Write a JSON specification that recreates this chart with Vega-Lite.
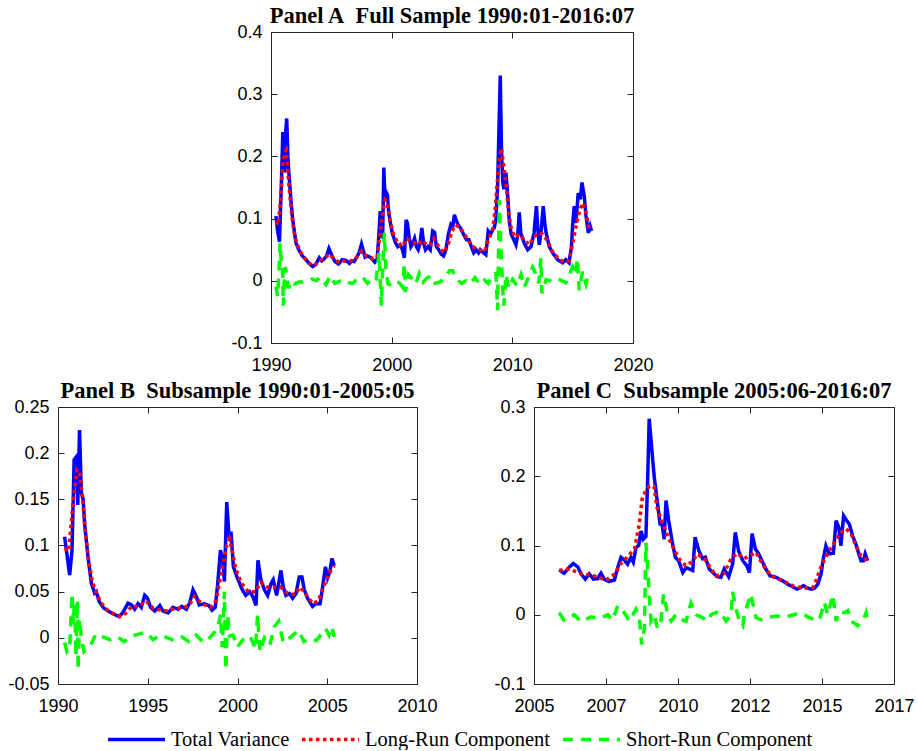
{
  "$schema": "https://vega.github.io/schema/vega-lite/v6.json",
  "padding": {"left": 7, "top": 4, "right": 5, "bottom": 0},
  "background": "white",
  "config": {
    "view": {"stroke": "#262626", "strokeWidth": 1},
    "axis": {"domain": false, "grid": false, "tickSize": -6, "tickColor": "#262626", "labelFont": "Liberation Sans", "labelFontSize": 18, "labelColor": "#000000", "labelFlush": false, "labelOverlap": false, "title": null, "minExtent": 0},
    "axisX": {"labelPadding": 19},
    "axisY": {"labelPadding": 15},
    "title": {"font": "Liberation Serif", "fontWeight": "bold", "fontSize": 22.5, "color": "#000000", "offset": -4, "baseline": "alphabetic"},
    "legend": {"labelFont": "Liberation Serif", "labelFontSize": 20.5, "labelColor": "#000000", "labelLimit": 400, "symbolType": "stroke", "symbolStrokeWidth": 3.5, "symbolSize": 3250, "columnPadding": 4, "labelOffset": 4}
  },
  "datasets": {
    "a": [
      {"t":1990.41,"s":"Total Variance","v":0.104},{"t":1990.55,"s":"Total Variance","v":0.080},{"t":1990.7,"s":"Total Variance","v":0.063},{"t":1990.85,"s":"Total Variance","v":0.15},{"t":1990.98,"s":"Total Variance","v":0.239},{"t":1991.08,"s":"Total Variance","v":0.20},{"t":1991.15,"s":"Total Variance","v":0.174},{"t":1991.22,"s":"Total Variance","v":0.24},{"t":1991.3,"s":"Total Variance","v":0.261},{"t":1991.4,"s":"Total Variance","v":0.20},{"t":1991.5,"s":"Total Variance","v":0.168},{"t":1991.65,"s":"Total Variance","v":0.13},{"t":1991.8,"s":"Total Variance","v":0.098},{"t":1992.07,"s":"Total Variance","v":0.061},{"t":1992.3,"s":"Total Variance","v":0.05},{"t":1992.6,"s":"Total Variance","v":0.040},{"t":1992.9,"s":"Total Variance","v":0.034},{"t":1993.2,"s":"Total Variance","v":0.027},{"t":1993.45,"s":"Total Variance","v":0.023},{"t":1993.7,"s":"Total Variance","v":0.026},{"t":1994.0,"s":"Total Variance","v":0.037},{"t":1994.2,"s":"Total Variance","v":0.032},{"t":1994.4,"s":"Total Variance","v":0.035},{"t":1994.6,"s":"Total Variance","v":0.040},{"t":1994.8,"s":"Total Variance","v":0.052},{"t":1995.1,"s":"Total Variance","v":0.038},{"t":1995.3,"s":"Total Variance","v":0.031},{"t":1995.6,"s":"Total Variance","v":0.027},{"t":1995.9,"s":"Total Variance","v":0.034},{"t":1996.2,"s":"Total Variance","v":0.033},{"t":1996.5,"s":"Total Variance","v":0.028},{"t":1996.7,"s":"Total Variance","v":0.032},{"t":1996.9,"s":"Total Variance","v":0.031},{"t":1997.1,"s":"Total Variance","v":0.038},{"t":1997.3,"s":"Total Variance","v":0.045},{"t":1997.5,"s":"Total Variance","v":0.059},{"t":1997.8,"s":"Total Variance","v":0.038},{"t":1998.0,"s":"Total Variance","v":0.040},{"t":1998.3,"s":"Total Variance","v":0.037},{"t":1998.6,"s":"Total Variance","v":0.030},{"t":1998.8,"s":"Total Variance","v":0.035},{"t":1998.95,"s":"Total Variance","v":0.077},{"t":1999.05,"s":"Total Variance","v":0.112},{"t":1999.15,"s":"Total Variance","v":0.10},{"t":1999.25,"s":"Total Variance","v":0.068},{"t":1999.35,"s":"Total Variance","v":0.182},{"t":1999.45,"s":"Total Variance","v":0.13},{"t":1999.55,"s":"Total Variance","v":0.142},{"t":1999.65,"s":"Total Variance","v":0.138},{"t":1999.75,"s":"Total Variance","v":0.11},{"t":1999.85,"s":"Total Variance","v":0.098},{"t":2000.05,"s":"Total Variance","v":0.077},{"t":2000.3,"s":"Total Variance","v":0.062},{"t":2000.5,"s":"Total Variance","v":0.055},{"t":2000.7,"s":"Total Variance","v":0.058},{"t":2000.9,"s":"Total Variance","v":0.05},{"t":2001.05,"s":"Total Variance","v":0.037},{"t":2001.2,"s":"Total Variance","v":0.098},{"t":2001.3,"s":"Total Variance","v":0.093},{"t":2001.45,"s":"Total Variance","v":0.07},{"t":2001.6,"s":"Total Variance","v":0.055},{"t":2001.75,"s":"Total Variance","v":0.06},{"t":2001.9,"s":"Total Variance","v":0.068},{"t":2002.05,"s":"Total Variance","v":0.055},{"t":2002.2,"s":"Total Variance","v":0.05},{"t":2002.35,"s":"Total Variance","v":0.06},{"t":2002.5,"s":"Total Variance","v":0.085},{"t":2002.65,"s":"Total Variance","v":0.06},{"t":2002.8,"s":"Total Variance","v":0.05},{"t":2003.0,"s":"Total Variance","v":0.055},{"t":2003.2,"s":"Total Variance","v":0.05},{"t":2003.4,"s":"Total Variance","v":0.08},{"t":2003.55,"s":"Total Variance","v":0.078},{"t":2003.7,"s":"Total Variance","v":0.055},{"t":2003.9,"s":"Total Variance","v":0.05},{"t":2004.1,"s":"Total Variance","v":0.043},{"t":2004.3,"s":"Total Variance","v":0.04},{"t":2004.5,"s":"Total Variance","v":0.05},{"t":2004.7,"s":"Total Variance","v":0.075},{"t":2004.9,"s":"Total Variance","v":0.09},{"t":2005.05,"s":"Total Variance","v":0.086},{"t":2005.2,"s":"Total Variance","v":0.106},{"t":2005.33,"s":"Total Variance","v":0.098},{"t":2005.5,"s":"Total Variance","v":0.09},{"t":2005.7,"s":"Total Variance","v":0.085},{"t":2005.9,"s":"Total Variance","v":0.077},{"t":2006.2,"s":"Total Variance","v":0.066},{"t":2006.4,"s":"Total Variance","v":0.066},{"t":2006.6,"s":"Total Variance","v":0.055},{"t":2006.8,"s":"Total Variance","v":0.045},{"t":2007.0,"s":"Total Variance","v":0.05},{"t":2007.2,"s":"Total Variance","v":0.045},{"t":2007.34,"s":"Total Variance","v":0.05},{"t":2007.54,"s":"Total Variance","v":0.046},{"t":2007.8,"s":"Total Variance","v":0.042},{"t":2007.9,"s":"Total Variance","v":0.06},{"t":2008.0,"s":"Total Variance","v":0.08},{"t":2008.2,"s":"Total Variance","v":0.075},{"t":2008.37,"s":"Total Variance","v":0.082},{"t":2008.5,"s":"Total Variance","v":0.085},{"t":2008.64,"s":"Total Variance","v":0.098},{"t":2008.78,"s":"Total Variance","v":0.152},{"t":2008.9,"s":"Total Variance","v":0.25},{"t":2009.0,"s":"Total Variance","v":0.33},{"t":2009.1,"s":"Total Variance","v":0.211},{"t":2009.2,"s":"Total Variance","v":0.16},{"t":2009.3,"s":"Total Variance","v":0.147},{"t":2009.47,"s":"Total Variance","v":0.174},{"t":2009.6,"s":"Total Variance","v":0.142},{"t":2009.74,"s":"Total Variance","v":0.098},{"t":2009.9,"s":"Total Variance","v":0.075},{"t":2010.0,"s":"Total Variance","v":0.071},{"t":2010.3,"s":"Total Variance","v":0.058},{"t":2010.45,"s":"Total Variance","v":0.075},{"t":2010.57,"s":"Total Variance","v":0.11},{"t":2010.7,"s":"Total Variance","v":0.077},{"t":2011.0,"s":"Total Variance","v":0.06},{"t":2011.27,"s":"Total Variance","v":0.05},{"t":2011.55,"s":"Total Variance","v":0.055},{"t":2011.8,"s":"Total Variance","v":0.077},{"t":2011.9,"s":"Total Variance","v":0.1},{"t":2012.0,"s":"Total Variance","v":0.12},{"t":2012.1,"s":"Total Variance","v":0.085},{"t":2012.23,"s":"Total Variance","v":0.058},{"t":2012.37,"s":"Total Variance","v":0.077},{"t":2012.47,"s":"Total Variance","v":0.1},{"t":2012.56,"s":"Total Variance","v":0.12},{"t":2012.7,"s":"Total Variance","v":0.09},{"t":2012.8,"s":"Total Variance","v":0.077},{"t":2013.06,"s":"Total Variance","v":0.055},{"t":2013.34,"s":"Total Variance","v":0.045},{"t":2013.76,"s":"Total Variance","v":0.034},{"t":2014.17,"s":"Total Variance","v":0.029},{"t":2014.44,"s":"Total Variance","v":0.034},{"t":2014.7,"s":"Total Variance","v":0.029},{"t":2014.9,"s":"Total Variance","v":0.055},{"t":2015.0,"s":"Total Variance","v":0.09},{"t":2015.13,"s":"Total Variance","v":0.12},{"t":2015.27,"s":"Total Variance","v":0.093},{"t":2015.46,"s":"Total Variance","v":0.141},{"t":2015.63,"s":"Total Variance","v":0.131},{"t":2015.77,"s":"Total Variance","v":0.158},{"t":2015.96,"s":"Total Variance","v":0.136},{"t":2016.1,"s":"Total Variance","v":0.105},{"t":2016.3,"s":"Total Variance","v":0.077},{"t":2016.45,"s":"Total Variance","v":0.088},{"t":2016.57,"s":"Total Variance","v":0.08},
      {"t":1990.41,"s":"Long-Run Component","v":0.095},{"t":1990.6,"s":"Long-Run Component","v":0.09},{"t":1990.8,"s":"Long-Run Component","v":0.13},{"t":1990.95,"s":"Long-Run Component","v":0.18},{"t":1991.1,"s":"Long-Run Component","v":0.205},{"t":1991.25,"s":"Long-Run Component","v":0.21},{"t":1991.35,"s":"Long-Run Component","v":0.19},{"t":1991.5,"s":"Long-Run Component","v":0.15},{"t":1991.7,"s":"Long-Run Component","v":0.11},{"t":1991.9,"s":"Long-Run Component","v":0.08},{"t":1992.1,"s":"Long-Run Component","v":0.062},{"t":1992.4,"s":"Long-Run Component","v":0.048},{"t":1992.8,"s":"Long-Run Component","v":0.036},{"t":1993.2,"s":"Long-Run Component","v":0.028},{"t":1993.5,"s":"Long-Run Component","v":0.024},{"t":1993.8,"s":"Long-Run Component","v":0.028},{"t":1994.1,"s":"Long-Run Component","v":0.033},{"t":1994.5,"s":"Long-Run Component","v":0.037},{"t":1994.8,"s":"Long-Run Component","v":0.043},{"t":1995.2,"s":"Long-Run Component","v":0.036},{"t":1995.6,"s":"Long-Run Component","v":0.03},{"t":1996.0,"s":"Long-Run Component","v":0.032},{"t":1996.5,"s":"Long-Run Component","v":0.031},{"t":1997.0,"s":"Long-Run Component","v":0.035},{"t":1997.5,"s":"Long-Run Component","v":0.048},{"t":1997.9,"s":"Long-Run Component","v":0.04},{"t":1998.4,"s":"Long-Run Component","v":0.036},{"t":1998.8,"s":"Long-Run Component","v":0.038},{"t":1999.0,"s":"Long-Run Component","v":0.07},{"t":1999.2,"s":"Long-Run Component","v":0.1},{"t":1999.45,"s":"Long-Run Component","v":0.13},{"t":1999.65,"s":"Long-Run Component","v":0.125},{"t":1999.85,"s":"Long-Run Component","v":0.1},{"t":2000.1,"s":"Long-Run Component","v":0.078},{"t":2000.5,"s":"Long-Run Component","v":0.06},{"t":2000.9,"s":"Long-Run Component","v":0.055},{"t":2001.2,"s":"Long-Run Component","v":0.068},{"t":2001.5,"s":"Long-Run Component","v":0.065},{"t":2001.8,"s":"Long-Run Component","v":0.062},{"t":2002.2,"s":"Long-Run Component","v":0.058},{"t":2002.5,"s":"Long-Run Component","v":0.065},{"t":2002.9,"s":"Long-Run Component","v":0.058},{"t":2003.2,"s":"Long-Run Component","v":0.058},{"t":2003.5,"s":"Long-Run Component","v":0.068},{"t":2003.9,"s":"Long-Run Component","v":0.055},{"t":2004.3,"s":"Long-Run Component","v":0.045},{"t":2004.7,"s":"Long-Run Component","v":0.06},{"t":2005.0,"s":"Long-Run Component","v":0.08},{"t":2005.3,"s":"Long-Run Component","v":0.09},{"t":2005.7,"s":"Long-Run Component","v":0.085},{"t":2006.2,"s":"Long-Run Component","v":0.07},{"t":2006.7,"s":"Long-Run Component","v":0.055},{"t":2007.2,"s":"Long-Run Component","v":0.05},{"t":2007.7,"s":"Long-Run Component","v":0.047},{"t":2008.0,"s":"Long-Run Component","v":0.065},{"t":2008.4,"s":"Long-Run Component","v":0.085},{"t":2008.6,"s":"Long-Run Component","v":0.12},{"t":2008.8,"s":"Long-Run Component","v":0.17},{"t":2008.95,"s":"Long-Run Component","v":0.2},{"t":2009.1,"s":"Long-Run Component","v":0.213},{"t":2009.25,"s":"Long-Run Component","v":0.19},{"t":2009.5,"s":"Long-Run Component","v":0.15},{"t":2009.7,"s":"Long-Run Component","v":0.11},{"t":2009.9,"s":"Long-Run Component","v":0.085},{"t":2010.2,"s":"Long-Run Component","v":0.07},{"t":2010.6,"s":"Long-Run Component","v":0.075},{"t":2011.0,"s":"Long-Run Component","v":0.065},{"t":2011.4,"s":"Long-Run Component","v":0.058},{"t":2011.8,"s":"Long-Run Component","v":0.07},{"t":2012.1,"s":"Long-Run Component","v":0.077},{"t":2012.5,"s":"Long-Run Component","v":0.075},{"t":2012.9,"s":"Long-Run Component","v":0.065},{"t":2013.3,"s":"Long-Run Component","v":0.048},{"t":2013.8,"s":"Long-Run Component","v":0.036},{"t":2014.3,"s":"Long-Run Component","v":0.03},{"t":2014.7,"s":"Long-Run Component","v":0.032},{"t":2015.0,"s":"Long-Run Component","v":0.06},{"t":2015.3,"s":"Long-Run Component","v":0.09},{"t":2015.6,"s":"Long-Run Component","v":0.115},{"t":2015.85,"s":"Long-Run Component","v":0.125},{"t":2016.1,"s":"Long-Run Component","v":0.11},{"t":2016.3,"s":"Long-Run Component","v":0.088},{"t":2016.57,"s":"Long-Run Component","v":0.08},
      {"t":1990.41,"s":"Short-Run Component","v":-0.009},{"t":1990.5,"s":"Short-Run Component","v":-0.02},{"t":1990.55,"s":"Short-Run Component","v":-0.025},{"t":1990.65,"s":"Short-Run Component","v":0.01},{"t":1990.75,"s":"Short-Run Component","v":0.061},{"t":1990.85,"s":"Short-Run Component","v":0.03},{"t":1990.95,"s":"Short-Run Component","v":0.03},{"t":1991.02,"s":"Short-Run Component","v":-0.04},{"t":1991.1,"s":"Short-Run Component","v":0.0},{"t":1991.19,"s":"Short-Run Component","v":0.022},{"t":1991.3,"s":"Short-Run Component","v":0.01},{"t":1991.4,"s":"Short-Run Component","v":-0.01},{"t":1991.52,"s":"Short-Run Component","v":-0.01},{"t":1991.7,"s":"Short-Run Component","v":0.0},{"t":1991.93,"s":"Short-Run Component","v":-0.005},{"t":1992.3,"s":"Short-Run Component","v":-0.002},{"t":1992.62,"s":"Short-Run Component","v":-0.002},{"t":1993.0,"s":"Short-Run Component","v":-0.001},{"t":1993.4,"s":"Short-Run Component","v":0.003},{"t":1993.73,"s":"Short-Run Component","v":0.0},{"t":1994.1,"s":"Short-Run Component","v":0.006},{"t":1994.56,"s":"Short-Run Component","v":-0.006},{"t":1994.9,"s":"Short-Run Component","v":0.008},{"t":1995.3,"s":"Short-Run Component","v":-0.004},{"t":1995.66,"s":"Short-Run Component","v":-0.001},{"t":1996.0,"s":"Short-Run Component","v":0.002},{"t":1996.4,"s":"Short-Run Component","v":-0.003},{"t":1996.77,"s":"Short-Run Component","v":-0.004},{"t":1997.2,"s":"Short-Run Component","v":0.004},{"t":1997.6,"s":"Short-Run Component","v":0.006},{"t":1998.0,"s":"Short-Run Component","v":-0.004},{"t":1998.4,"s":"Short-Run Component","v":0.002},{"t":1998.7,"s":"Short-Run Component","v":-0.001},{"t":1998.95,"s":"Short-Run Component","v":0.045},{"t":1999.05,"s":"Short-Run Component","v":0.0},{"t":1999.15,"s":"Short-Run Component","v":-0.04},{"t":1999.25,"s":"Short-Run Component","v":0.02},{"t":1999.39,"s":"Short-Run Component","v":0.077},{"t":1999.53,"s":"Short-Run Component","v":0.016},{"t":1999.7,"s":"Short-Run Component","v":-0.005},{"t":1999.86,"s":"Short-Run Component","v":-0.006},{"t":2000.2,"s":"Short-Run Component","v":0.0},{"t":2000.63,"s":"Short-Run Component","v":-0.003},{"t":2000.9,"s":"Short-Run Component","v":-0.01},{"t":2001.05,"s":"Short-Run Component","v":0.027},{"t":2001.13,"s":"Short-Run Component","v":-0.018},{"t":2001.4,"s":"Short-Run Component","v":0.01},{"t":2001.74,"s":"Short-Run Component","v":0.002},{"t":2002.0,"s":"Short-Run Component","v":-0.005},{"t":2002.29,"s":"Short-Run Component","v":0.012},{"t":2002.6,"s":"Short-Run Component","v":-0.002},{"t":2002.9,"s":"Short-Run Component","v":0.004},{"t":2003.3,"s":"Short-Run Component","v":0.008},{"t":2003.6,"s":"Short-Run Component","v":-0.004},{"t":2004.0,"s":"Short-Run Component","v":-0.002},{"t":2004.4,"s":"Short-Run Component","v":0.004},{"t":2004.8,"s":"Short-Run Component","v":0.016},{"t":2005.05,"s":"Short-Run Component","v":0.016},{"t":2005.4,"s":"Short-Run Component","v":0.002},{"t":2005.8,"s":"Short-Run Component","v":-0.004},{"t":2006.16,"s":"Short-Run Component","v":0.0},{"t":2006.5,"s":"Short-Run Component","v":-0.005},{"t":2006.9,"s":"Short-Run Component","v":0.005},{"t":2007.3,"s":"Short-Run Component","v":-0.006},{"t":2007.7,"s":"Short-Run Component","v":0.001},{"t":2008.0,"s":"Short-Run Component","v":-0.004},{"t":2008.3,"s":"Short-Run Component","v":0.01},{"t":2008.64,"s":"Short-Run Component","v":0.012},{"t":2008.78,"s":"Short-Run Component","v":-0.047},{"t":2008.92,"s":"Short-Run Component","v":0.13},{"t":2009.06,"s":"Short-Run Component","v":0.05},{"t":2009.19,"s":"Short-Run Component","v":-0.01},{"t":2009.3,"s":"Short-Run Component","v":-0.04},{"t":2009.47,"s":"Short-Run Component","v":0.01},{"t":2009.7,"s":"Short-Run Component","v":-0.012},{"t":2010.03,"s":"Short-Run Component","v":0.002},{"t":2010.4,"s":"Short-Run Component","v":-0.008},{"t":2010.72,"s":"Short-Run Component","v":0.01},{"t":2011.0,"s":"Short-Run Component","v":-0.01},{"t":2011.3,"s":"Short-Run Component","v":0.004},{"t":2011.68,"s":"Short-Run Component","v":0.022},{"t":2011.96,"s":"Short-Run Component","v":0.01},{"t":2012.2,"s":"Short-Run Component","v":-0.004},{"t":2012.37,"s":"Short-Run Component","v":0.036},{"t":2012.45,"s":"Short-Run Component","v":-0.02},{"t":2012.8,"s":"Short-Run Component","v":0.002},{"t":2013.34,"s":"Short-Run Component","v":-0.001},{"t":2013.8,"s":"Short-Run Component","v":0.003},{"t":2014.44,"s":"Short-Run Component","v":-0.003},{"t":2014.99,"s":"Short-Run Component","v":0.022},{"t":2015.2,"s":"Short-Run Component","v":0.01},{"t":2015.4,"s":"Short-Run Component","v":0.036},{"t":2015.54,"s":"Short-Run Component","v":-0.015},{"t":2015.82,"s":"Short-Run Component","v":0.015},{"t":2016.1,"s":"Short-Run Component","v":-0.005},{"t":2016.3,"s":"Short-Run Component","v":0.01},{"t":2016.51,"s":"Short-Run Component","v":0.005}
    ],
    "b": [
      {"t":1990.37,"s":"Total Variance","v":0.1095},{"t":1990.5,"s":"Total Variance","v":0.09},{"t":1990.65,"s":"Total Variance","v":0.068},{"t":1990.78,"s":"Total Variance","v":0.095},{"t":1990.9,"s":"Total Variance","v":0.193},{"t":1991.02,"s":"Total Variance","v":0.196},{"t":1991.1,"s":"Total Variance","v":0.144},{"t":1991.2,"s":"Total Variance","v":0.225},{"t":1991.3,"s":"Total Variance","v":0.157},{"t":1991.4,"s":"Total Variance","v":0.15},{"t":1991.48,"s":"Total Variance","v":0.124},{"t":1991.67,"s":"Total Variance","v":0.088},{"t":1991.86,"s":"Total Variance","v":0.059},{"t":1992.04,"s":"Total Variance","v":0.0485},{"t":1992.13,"s":"Total Variance","v":0.05},{"t":1992.3,"s":"Total Variance","v":0.039},{"t":1992.56,"s":"Total Variance","v":0.032},{"t":1992.97,"s":"Total Variance","v":0.027},{"t":1993.4,"s":"Total Variance","v":0.023},{"t":1993.6,"s":"Total Variance","v":0.027},{"t":1993.9,"s":"Total Variance","v":0.0375},{"t":1994.08,"s":"Total Variance","v":0.036},{"t":1994.27,"s":"Total Variance","v":0.031},{"t":1994.46,"s":"Total Variance","v":0.037},{"t":1994.64,"s":"Total Variance","v":0.033},{"t":1994.83,"s":"Total Variance","v":0.046},{"t":1994.98,"s":"Total Variance","v":0.043},{"t":1995.16,"s":"Total Variance","v":0.033},{"t":1995.39,"s":"Total Variance","v":0.029},{"t":1995.67,"s":"Total Variance","v":0.035},{"t":1995.85,"s":"Total Variance","v":0.029},{"t":1996.13,"s":"Total Variance","v":0.027},{"t":1996.4,"s":"Total Variance","v":0.033},{"t":1996.7,"s":"Total Variance","v":0.031},{"t":1996.9,"s":"Total Variance","v":0.034},{"t":1997.15,"s":"Total Variance","v":0.031},{"t":1997.34,"s":"Total Variance","v":0.038},{"t":1997.52,"s":"Total Variance","v":0.052},{"t":1997.7,"s":"Total Variance","v":0.045},{"t":1997.87,"s":"Total Variance","v":0.0355},{"t":1998.15,"s":"Total Variance","v":0.037},{"t":1998.4,"s":"Total Variance","v":0.035},{"t":1998.58,"s":"Total Variance","v":0.030},{"t":1998.76,"s":"Total Variance","v":0.033},{"t":1998.9,"s":"Total Variance","v":0.059},{"t":1999.05,"s":"Total Variance","v":0.095},{"t":1999.18,"s":"Total Variance","v":0.084},{"t":1999.27,"s":"Total Variance","v":0.061},{"t":1999.4,"s":"Total Variance","v":0.147},{"t":1999.51,"s":"Total Variance","v":0.115},{"t":1999.58,"s":"Total Variance","v":0.105},{"t":1999.64,"s":"Total Variance","v":0.115},{"t":1999.77,"s":"Total Variance","v":0.077},{"t":1999.99,"s":"Total Variance","v":0.065},{"t":2000.27,"s":"Total Variance","v":0.052},{"t":2000.46,"s":"Total Variance","v":0.046},{"t":2000.68,"s":"Total Variance","v":0.05},{"t":2000.87,"s":"Total Variance","v":0.044},{"t":2001.03,"s":"Total Variance","v":0.035},{"t":2001.14,"s":"Total Variance","v":0.084},{"t":2001.3,"s":"Total Variance","v":0.063},{"t":2001.5,"s":"Total Variance","v":0.052},{"t":2001.68,"s":"Total Variance","v":0.046},{"t":2001.87,"s":"Total Variance","v":0.059},{"t":2001.99,"s":"Total Variance","v":0.063},{"t":2002.18,"s":"Total Variance","v":0.046},{"t":2002.42,"s":"Total Variance","v":0.073},{"t":2002.55,"s":"Total Variance","v":0.055},{"t":2002.7,"s":"Total Variance","v":0.046},{"t":2002.89,"s":"Total Variance","v":0.048},{"t":2003.07,"s":"Total Variance","v":0.043},{"t":2003.26,"s":"Total Variance","v":0.048},{"t":2003.44,"s":"Total Variance","v":0.066},{"t":2003.59,"s":"Total Variance","v":0.066},{"t":2003.72,"s":"Total Variance","v":0.052},{"t":2003.9,"s":"Total Variance","v":0.043},{"t":2004.18,"s":"Total Variance","v":0.034},{"t":2004.37,"s":"Total Variance","v":0.037},{"t":2004.6,"s":"Total Variance","v":0.037},{"t":2004.74,"s":"Total Variance","v":0.055},{"t":2004.9,"s":"Total Variance","v":0.077},{"t":2005.02,"s":"Total Variance","v":0.065},{"t":2005.15,"s":"Total Variance","v":0.072},{"t":2005.26,"s":"Total Variance","v":0.086},{"t":2005.39,"s":"Total Variance","v":0.078},
      {"t":1990.37,"s":"Long-Run Component","v":0.097},{"t":1990.6,"s":"Long-Run Component","v":0.094},{"t":1990.8,"s":"Long-Run Component","v":0.138},{"t":1990.95,"s":"Long-Run Component","v":0.165},{"t":1991.05,"s":"Long-Run Component","v":0.182},{"t":1991.2,"s":"Long-Run Component","v":0.18},{"t":1991.35,"s":"Long-Run Component","v":0.155},{"t":1991.5,"s":"Long-Run Component","v":0.12},{"t":1991.7,"s":"Long-Run Component","v":0.085},{"t":1991.9,"s":"Long-Run Component","v":0.062},{"t":1992.1,"s":"Long-Run Component","v":0.05},{"t":1992.4,"s":"Long-Run Component","v":0.038},{"t":1992.8,"s":"Long-Run Component","v":0.029},{"t":1993.2,"s":"Long-Run Component","v":0.025},{"t":1993.5,"s":"Long-Run Component","v":0.023},{"t":1993.8,"s":"Long-Run Component","v":0.027},{"t":1994.1,"s":"Long-Run Component","v":0.034},{"t":1994.5,"s":"Long-Run Component","v":0.034},{"t":1994.9,"s":"Long-Run Component","v":0.04},{"t":1995.3,"s":"Long-Run Component","v":0.032},{"t":1995.7,"s":"Long-Run Component","v":0.03},{"t":1996.1,"s":"Long-Run Component","v":0.029},{"t":1996.5,"s":"Long-Run Component","v":0.032},{"t":1996.9,"s":"Long-Run Component","v":0.032},{"t":1997.3,"s":"Long-Run Component","v":0.035},{"t":1997.6,"s":"Long-Run Component","v":0.045},{"t":1998.0,"s":"Long-Run Component","v":0.037},{"t":1998.5,"s":"Long-Run Component","v":0.033},{"t":1998.8,"s":"Long-Run Component","v":0.04},{"t":1999.0,"s":"Long-Run Component","v":0.06},{"t":1999.2,"s":"Long-Run Component","v":0.08},{"t":1999.4,"s":"Long-Run Component","v":0.1},{"t":1999.55,"s":"Long-Run Component","v":0.107},{"t":1999.7,"s":"Long-Run Component","v":0.095},{"t":1999.9,"s":"Long-Run Component","v":0.075},{"t":2000.2,"s":"Long-Run Component","v":0.06},{"t":2000.6,"s":"Long-Run Component","v":0.05},{"t":2001.0,"s":"Long-Run Component","v":0.05},{"t":2001.3,"s":"Long-Run Component","v":0.06},{"t":2001.6,"s":"Long-Run Component","v":0.055},{"t":2002.0,"s":"Long-Run Component","v":0.055},{"t":2002.4,"s":"Long-Run Component","v":0.055},{"t":2002.8,"s":"Long-Run Component","v":0.048},{"t":2003.2,"s":"Long-Run Component","v":0.047},{"t":2003.5,"s":"Long-Run Component","v":0.055},{"t":2003.9,"s":"Long-Run Component","v":0.045},{"t":2004.2,"s":"Long-Run Component","v":0.037},{"t":2004.5,"s":"Long-Run Component","v":0.04},{"t":2004.8,"s":"Long-Run Component","v":0.055},{"t":2005.1,"s":"Long-Run Component","v":0.07},{"t":2005.39,"s":"Long-Run Component","v":0.078},
      {"t":1990.37,"s":"Short-Run Component","v":-0.005},{"t":1990.5,"s":"Short-Run Component","v":-0.015},{"t":1990.65,"s":"Short-Run Component","v":-0.012},{"t":1990.78,"s":"Short-Run Component","v":0.048},{"t":1990.85,"s":"Short-Run Component","v":0.015},{"t":1990.92,"s":"Short-Run Component","v":0.04},{"t":1991.0,"s":"Short-Run Component","v":-0.02},{"t":1991.08,"s":"Short-Run Component","v":0.04},{"t":1991.12,"s":"Short-Run Component","v":-0.035},{"t":1991.2,"s":"Short-Run Component","v":0.02},{"t":1991.3,"s":"Short-Run Component","v":0.0},{"t":1991.45,"s":"Short-Run Component","v":-0.015},{"t":1991.6,"s":"Short-Run Component","v":-0.012},{"t":1991.9,"s":"Short-Run Component","v":-0.005},{"t":1992.1,"s":"Short-Run Component","v":0.004},{"t":1992.5,"s":"Short-Run Component","v":0.001},{"t":1992.9,"s":"Short-Run Component","v":-0.002},{"t":1993.3,"s":"Short-Run Component","v":0.001},{"t":1993.7,"s":"Short-Run Component","v":-0.004},{"t":1994.1,"s":"Short-Run Component","v":0.002},{"t":1994.5,"s":"Short-Run Component","v":0.004},{"t":1994.9,"s":"Short-Run Component","v":0.006},{"t":1995.3,"s":"Short-Run Component","v":-0.002},{"t":1995.7,"s":"Short-Run Component","v":0.003},{"t":1996.1,"s":"Short-Run Component","v":0.0},{"t":1996.5,"s":"Short-Run Component","v":-0.003},{"t":1996.9,"s":"Short-Run Component","v":0.001},{"t":1997.3,"s":"Short-Run Component","v":-0.004},{"t":1997.7,"s":"Short-Run Component","v":0.003},{"t":1998.1,"s":"Short-Run Component","v":-0.005},{"t":1998.5,"s":"Short-Run Component","v":0.001},{"t":1998.9,"s":"Short-Run Component","v":0.01},{"t":1999.05,"s":"Short-Run Component","v":0.025},{"t":1999.15,"s":"Short-Run Component","v":-0.01},{"t":1999.27,"s":"Short-Run Component","v":0.05},{"t":1999.35,"s":"Short-Run Component","v":-0.035},{"t":1999.45,"s":"Short-Run Component","v":0.025},{"t":1999.55,"s":"Short-Run Component","v":0.002},{"t":1999.75,"s":"Short-Run Component","v":0.003},{"t":2000.0,"s":"Short-Run Component","v":-0.01},{"t":2000.3,"s":"Short-Run Component","v":-0.002},{"t":2000.7,"s":"Short-Run Component","v":0.002},{"t":2001.0,"s":"Short-Run Component","v":-0.012},{"t":2001.12,"s":"Short-Run Component","v":0.025},{"t":2001.25,"s":"Short-Run Component","v":-0.015},{"t":2001.5,"s":"Short-Run Component","v":0.0},{"t":2001.8,"s":"Short-Run Component","v":-0.008},{"t":2002.05,"s":"Short-Run Component","v":0.012},{"t":2002.3,"s":"Short-Run Component","v":0.018},{"t":2002.55,"s":"Short-Run Component","v":-0.005},{"t":2002.8,"s":"Short-Run Component","v":-0.002},{"t":2003.1,"s":"Short-Run Component","v":0.003},{"t":2003.4,"s":"Short-Run Component","v":0.008},{"t":2003.7,"s":"Short-Run Component","v":-0.004},{"t":2004.0,"s":"Short-Run Component","v":-0.001},{"t":2004.4,"s":"Short-Run Component","v":-0.003},{"t":2004.7,"s":"Short-Run Component","v":0.005},{"t":2004.9,"s":"Short-Run Component","v":0.01},{"t":2005.1,"s":"Short-Run Component","v":0.003},{"t":2005.25,"s":"Short-Run Component","v":0.012},{"t":2005.39,"s":"Short-Run Component","v":0.001}
    ],
    "c": [
      {"t":2005.84,"s":"Total Variance","v":0.0645},{"t":2006.01,"s":"Total Variance","v":0.06},{"t":2006.18,"s":"Total Variance","v":0.069},{"t":2006.31,"s":"Total Variance","v":0.074},{"t":2006.46,"s":"Total Variance","v":0.069},{"t":2006.57,"s":"Total Variance","v":0.059},{"t":2006.71,"s":"Total Variance","v":0.0515},{"t":2006.84,"s":"Total Variance","v":0.059},{"t":2006.98,"s":"Total Variance","v":0.0515},{"t":2007.12,"s":"Total Variance","v":0.052},{"t":2007.23,"s":"Total Variance","v":0.06},{"t":2007.34,"s":"Total Variance","v":0.0515},{"t":2007.49,"s":"Total Variance","v":0.048},{"t":2007.68,"s":"Total Variance","v":0.05},{"t":2007.79,"s":"Total Variance","v":0.068},{"t":2007.9,"s":"Total Variance","v":0.0828},{"t":2008.01,"s":"Total Variance","v":0.079},{"t":2008.12,"s":"Total Variance","v":0.073},{"t":2008.23,"s":"Total Variance","v":0.083},{"t":2008.31,"s":"Total Variance","v":0.076},{"t":2008.4,"s":"Total Variance","v":0.097},{"t":2008.49,"s":"Total Variance","v":0.1},{"t":2008.57,"s":"Total Variance","v":0.121},{"t":2008.64,"s":"Total Variance","v":0.109},{"t":2008.73,"s":"Total Variance","v":0.113},{"t":2008.79,"s":"Total Variance","v":0.198},{"t":2008.84,"s":"Total Variance","v":0.283},{"t":2008.93,"s":"Total Variance","v":0.237},{"t":2009.01,"s":"Total Variance","v":0.198},{"t":2009.12,"s":"Total Variance","v":0.16},{"t":2009.2,"s":"Total Variance","v":0.131},{"t":2009.27,"s":"Total Variance","v":0.13},{"t":2009.34,"s":"Total Variance","v":0.109},{"t":2009.4,"s":"Total Variance","v":0.165},{"t":2009.49,"s":"Total Variance","v":0.136},{"t":2009.6,"s":"Total Variance","v":0.107},{"t":2009.71,"s":"Total Variance","v":0.083},{"t":2009.82,"s":"Total Variance","v":0.078},{"t":2009.96,"s":"Total Variance","v":0.061},{"t":2010.07,"s":"Total Variance","v":0.068},{"t":2010.18,"s":"Total Variance","v":0.066},{"t":2010.29,"s":"Total Variance","v":0.064},{"t":2010.37,"s":"Total Variance","v":0.112},{"t":2010.49,"s":"Total Variance","v":0.093},{"t":2010.62,"s":"Total Variance","v":0.081},{"t":2010.71,"s":"Total Variance","v":0.083},{"t":2010.84,"s":"Total Variance","v":0.066},{"t":2011.01,"s":"Total Variance","v":0.059},{"t":2011.12,"s":"Total Variance","v":0.055},{"t":2011.23,"s":"Total Variance","v":0.054},{"t":2011.34,"s":"Total Variance","v":0.066},{"t":2011.49,"s":"Total Variance","v":0.055},{"t":2011.62,"s":"Total Variance","v":0.073},{"t":2011.71,"s":"Total Variance","v":0.119},{"t":2011.82,"s":"Total Variance","v":0.092},{"t":2011.96,"s":"Total Variance","v":0.078},{"t":2012.09,"s":"Total Variance","v":0.071},{"t":2012.18,"s":"Total Variance","v":0.061},{"t":2012.27,"s":"Total Variance","v":0.117},{"t":2012.38,"s":"Total Variance","v":0.095},{"t":2012.49,"s":"Total Variance","v":0.088},{"t":2012.62,"s":"Total Variance","v":0.076},{"t":2012.73,"s":"Total Variance","v":0.066},{"t":2012.87,"s":"Total Variance","v":0.056},{"t":2013.01,"s":"Total Variance","v":0.055},{"t":2013.12,"s":"Total Variance","v":0.053},{"t":2013.29,"s":"Total Variance","v":0.049},{"t":2013.46,"s":"Total Variance","v":0.044},{"t":2013.62,"s":"Total Variance","v":0.0405},{"t":2013.76,"s":"Total Variance","v":0.037},{"t":2013.87,"s":"Total Variance","v":0.039},{"t":2013.98,"s":"Total Variance","v":0.042},{"t":2014.09,"s":"Total Variance","v":0.039},{"t":2014.23,"s":"Total Variance","v":0.037},{"t":2014.34,"s":"Total Variance","v":0.038},{"t":2014.46,"s":"Total Variance","v":0.044},{"t":2014.57,"s":"Total Variance","v":0.059},{"t":2014.64,"s":"Total Variance","v":0.08},{"t":2014.73,"s":"Total Variance","v":0.0996},{"t":2014.84,"s":"Total Variance","v":0.088},{"t":2014.98,"s":"Total Variance","v":0.089},{"t":2015.07,"s":"Total Variance","v":0.136},{"t":2015.16,"s":"Total Variance","v":0.126},{"t":2015.23,"s":"Total Variance","v":0.0996},{"t":2015.32,"s":"Total Variance","v":0.143},{"t":2015.42,"s":"Total Variance","v":0.136},{"t":2015.51,"s":"Total Variance","v":0.131},{"t":2015.62,"s":"Total Variance","v":0.114},{"t":2015.73,"s":"Total Variance","v":0.102},{"t":2015.82,"s":"Total Variance","v":0.089},{"t":2015.9,"s":"Total Variance","v":0.078},{"t":2015.98,"s":"Total Variance","v":0.078},{"t":2016.04,"s":"Total Variance","v":0.088},{"t":2016.12,"s":"Total Variance","v":0.078},
      {"t":2005.84,"s":"Long-Run Component","v":0.064},{"t":2006.2,"s":"Long-Run Component","v":0.066},{"t":2006.5,"s":"Long-Run Component","v":0.06},{"t":2007.0,"s":"Long-Run Component","v":0.056},{"t":2007.4,"s":"Long-Run Component","v":0.05},{"t":2007.7,"s":"Long-Run Component","v":0.059},{"t":2007.9,"s":"Long-Run Component","v":0.074},{"t":2008.1,"s":"Long-Run Component","v":0.083},{"t":2008.35,"s":"Long-Run Component","v":0.095},{"t":2008.5,"s":"Long-Run Component","v":0.128},{"t":2008.6,"s":"Long-Run Component","v":0.166},{"t":2008.72,"s":"Long-Run Component","v":0.179},{"t":2008.85,"s":"Long-Run Component","v":0.186},{"t":2009.0,"s":"Long-Run Component","v":0.185},{"t":2009.1,"s":"Long-Run Component","v":0.155},{"t":2009.25,"s":"Long-Run Component","v":0.136},{"t":2009.5,"s":"Long-Run Component","v":0.109},{"t":2009.7,"s":"Long-Run Component","v":0.092},{"t":2009.85,"s":"Long-Run Component","v":0.08},{"t":2010.05,"s":"Long-Run Component","v":0.071},{"t":2010.25,"s":"Long-Run Component","v":0.076},{"t":2010.45,"s":"Long-Run Component","v":0.0877},{"t":2010.7,"s":"Long-Run Component","v":0.08},{"t":2010.85,"s":"Long-Run Component","v":0.07},{"t":2011.07,"s":"Long-Run Component","v":0.056},{"t":2011.34,"s":"Long-Run Component","v":0.06},{"t":2011.57,"s":"Long-Run Component","v":0.081},{"t":2011.78,"s":"Long-Run Component","v":0.0886},{"t":2012.0,"s":"Long-Run Component","v":0.081},{"t":2012.18,"s":"Long-Run Component","v":0.085},{"t":2012.4,"s":"Long-Run Component","v":0.09},{"t":2012.5,"s":"Long-Run Component","v":0.082},{"t":2012.73,"s":"Long-Run Component","v":0.065},{"t":2012.96,"s":"Long-Run Component","v":0.055},{"t":2013.29,"s":"Long-Run Component","v":0.049},{"t":2013.62,"s":"Long-Run Component","v":0.042},{"t":2013.95,"s":"Long-Run Component","v":0.0385},{"t":2014.29,"s":"Long-Run Component","v":0.039},{"t":2014.4,"s":"Long-Run Component","v":0.049},{"t":2014.53,"s":"Long-Run Component","v":0.065},{"t":2014.68,"s":"Long-Run Component","v":0.08},{"t":2014.84,"s":"Long-Run Component","v":0.092},{"t":2015.01,"s":"Long-Run Component","v":0.104},{"t":2015.18,"s":"Long-Run Component","v":0.117},{"t":2015.4,"s":"Long-Run Component","v":0.124},{"t":2015.57,"s":"Long-Run Component","v":0.117},{"t":2015.73,"s":"Long-Run Component","v":0.1},{"t":2015.9,"s":"Long-Run Component","v":0.085},{"t":2016.12,"s":"Long-Run Component","v":0.078},
      {"t":2005.84,"s":"Short-Run Component","v":0.003},{"t":2006.0,"s":"Short-Run Component","v":-0.008},{"t":2006.34,"s":"Short-Run Component","v":0.0},{"t":2006.57,"s":"Short-Run Component","v":-0.01},{"t":2006.9,"s":"Short-Run Component","v":-0.003},{"t":2007.18,"s":"Short-Run Component","v":-0.006},{"t":2007.46,"s":"Short-Run Component","v":0.0},{"t":2007.62,"s":"Short-Run Component","v":-0.008},{"t":2007.79,"s":"Short-Run Component","v":0.013},{"t":2008.01,"s":"Short-Run Component","v":0.003},{"t":2008.18,"s":"Short-Run Component","v":-0.009},{"t":2008.4,"s":"Short-Run Component","v":0.008},{"t":2008.51,"s":"Short-Run Component","v":-0.004},{"t":2008.59,"s":"Short-Run Component","v":-0.043},{"t":2008.68,"s":"Short-Run Component","v":-0.02},{"t":2008.73,"s":"Short-Run Component","v":0.104},{"t":2008.79,"s":"Short-Run Component","v":0.068},{"t":2008.84,"s":"Short-Run Component","v":0.03},{"t":2008.9,"s":"Short-Run Component","v":-0.009},{"t":2009.01,"s":"Short-Run Component","v":0.0},{"t":2009.12,"s":"Short-Run Component","v":-0.02},{"t":2009.23,"s":"Short-Run Component","v":-0.009},{"t":2009.32,"s":"Short-Run Component","v":0.03},{"t":2009.46,"s":"Short-Run Component","v":0.0},{"t":2009.57,"s":"Short-Run Component","v":-0.009},{"t":2009.73,"s":"Short-Run Component","v":0.0},{"t":2009.9,"s":"Short-Run Component","v":-0.007},{"t":2010.07,"s":"Short-Run Component","v":-0.009},{"t":2010.23,"s":"Short-Run Component","v":0.017},{"t":2010.4,"s":"Short-Run Component","v":0.0},{"t":2010.57,"s":"Short-Run Component","v":-0.003},{"t":2010.79,"s":"Short-Run Component","v":-0.009},{"t":2010.9,"s":"Short-Run Component","v":0.0},{"t":2011.18,"s":"Short-Run Component","v":0.005},{"t":2011.4,"s":"Short-Run Component","v":-0.009},{"t":2011.57,"s":"Short-Run Component","v":0.0},{"t":2011.62,"s":"Short-Run Component","v":0.033},{"t":2011.73,"s":"Short-Run Component","v":0.01},{"t":2011.84,"s":"Short-Run Component","v":-0.009},{"t":2011.96,"s":"Short-Run Component","v":-0.016},{"t":2012.01,"s":"Short-Run Component","v":0.0},{"t":2012.23,"s":"Short-Run Component","v":0.03},{"t":2012.29,"s":"Short-Run Component","v":0.017},{"t":2012.4,"s":"Short-Run Component","v":-0.004},{"t":2012.57,"s":"Short-Run Component","v":-0.007},{"t":2012.73,"s":"Short-Run Component","v":-0.004},{"t":2013.12,"s":"Short-Run Component","v":-0.002},{"t":2013.34,"s":"Short-Run Component","v":-0.004},{"t":2013.9,"s":"Short-Run Component","v":0.003},{"t":2014.12,"s":"Short-Run Component","v":-0.003},{"t":2014.34,"s":"Short-Run Component","v":-0.007},{"t":2014.51,"s":"Short-Run Component","v":-0.008},{"t":2014.68,"s":"Short-Run Component","v":0.018},{"t":2014.79,"s":"Short-Run Component","v":0.0},{"t":2014.96,"s":"Short-Run Component","v":0.029},{"t":2015.07,"s":"Short-Run Component","v":-0.009},{"t":2015.18,"s":"Short-Run Component","v":0.005},{"t":2015.34,"s":"Short-Run Component","v":0.003},{"t":2015.46,"s":"Short-Run Component","v":0.006},{"t":2015.57,"s":"Short-Run Component","v":-0.009},{"t":2015.79,"s":"Short-Run Component","v":-0.016},{"t":2015.96,"s":"Short-Run Component","v":-0.009},{"t":2016.07,"s":"Short-Run Component","v":0.003},{"t":2016.12,"s":"Short-Run Component","v":-0.012}
    ]
  },
  "vconcat": [
    {
      "hconcat": [
        {
          "width": 172, "height": 300,
          "view": {"stroke": null},
          "data": {"values": []},
          "mark": {"type": "point", "opacity": 0},
          "encoding": {}
        },
        {
          "title": {"text": "Panel A\u00a0 Full Sample 1990:01-2016:07"},
          "width": 362, "height": 311,
          "data": {"name": "a"},
          "layer": [
            {
              "mark": {"type": "line", "strokeWidth": 3.5, "clip": true},
              "encoding": {
                "x": {"field": "t", "type": "quantitative", "scale": {"domain": [1990, 2020], "nice": false, "zero": false}, "axis": {"values": [1990, 2000, 2010, 2020], "labelExpr": "'' + datum.value"}},
                "y": {"field": "v", "type": "quantitative", "scale": {"domain": [-0.1, 0.4], "nice": false, "zero": false}, "axis": {"values": [-0.1, 0, 0.1, 0.2, 0.3, 0.4], "labelExpr": "'' + datum.value"}},
                "color": {"field": "s", "type": "nominal", "scale": {"domain": ["Total Variance", "Long-Run Component", "Short-Run Component"], "range": ["#0000ff", "#ff0000", "#00ff00"]}, "legend": {"title": null, "orient": "none", "direction": "horizontal", "legendX": 48, "legendY": 677}},
                "strokeDash": {"field": "s", "type": "nominal", "scale": {"domain": ["Total Variance", "Long-Run Component", "Short-Run Component"], "range": [[1, 0], [3.5, 3.5], [10, 8]]}, "legend": {"title": null, "orient": "none", "direction": "horizontal", "legendX": 48, "legendY": 677}}
              }
            },
            {
              "mark": {"type": "line", "opacity": 0},
              "encoding": {
                "x": {"field": "t", "type": "quantitative", "axis": {"orient": "top", "labels": false, "values": [1990, 2000, 2010, 2020]}},
                "y": {"field": "v", "type": "quantitative", "axis": {"orient": "right", "labels": false, "values": [-0.1, 0, 0.1, 0.2, 0.3, 0.4]}}
              }
            }
          ],
          "resolve": {"axis": {"x": "independent", "y": "independent"}}
        }
      ],
      "spacing": 0
    },
    {
      "hconcat": [
        {
          "title": {"text": "Panel B\u00a0 Subsample 1990:01-2005:05"},
          "width": 359, "height": 277,
          "data": {"name": "b"},
          "layer": [
            {
              "mark": {"type": "line", "strokeWidth": 3.5, "clip": true},
              "encoding": {
                "x": {"field": "t", "type": "quantitative", "scale": {"domain": [1990, 2010], "nice": false, "zero": false}, "axis": {"values": [1990, 1995, 2000, 2005, 2010], "labelExpr": "'' + datum.value"}},
                "y": {"field": "v", "type": "quantitative", "scale": {"domain": [-0.05, 0.25], "nice": false, "zero": false}, "axis": {"values": [-0.05, 0, 0.05, 0.1, 0.15, 0.2, 0.25], "labelExpr": "'' + datum.value"}},
                "color": {"field": "s", "type": "nominal", "scale": {"domain": ["Total Variance", "Long-Run Component", "Short-Run Component"], "range": ["#0000ff", "#ff0000", "#00ff00"]}, "legend": {"title": null, "orient": "none", "direction": "horizontal", "legendX": 48, "legendY": 677}},
                "strokeDash": {"field": "s", "type": "nominal", "scale": {"domain": ["Total Variance", "Long-Run Component", "Short-Run Component"], "range": [[1, 0], [3.5, 3.5], [10, 8]]}, "legend": {"title": null, "orient": "none", "direction": "horizontal", "legendX": 48, "legendY": 677}}
              }
            },
            {
              "mark": {"type": "line", "opacity": 0},
              "encoding": {
                "x": {"field": "t", "type": "quantitative", "axis": {"orient": "top", "labels": false, "values": [1990, 1995, 2000, 2005, 2010]}},
                "y": {"field": "v", "type": "quantitative", "axis": {"orient": "right", "labels": false, "values": [-0.05, 0, 0.05, 0.1, 0.15, 0.2, 0.25]}}
              }
            }
          ],
          "resolve": {"axis": {"x": "independent", "y": "independent"}}
        },
        {
          "title": {"text": "Panel C\u00a0 Subsample 2005:06-2016:07"},
          "width": 360, "height": 277,
          "data": {"name": "c"},
          "layer": [
            {
              "mark": {"type": "line", "strokeWidth": 3.5, "clip": true},
              "encoding": {
                "x": {"field": "t", "type": "quantitative", "scale": {"domain": [2005, 2017], "nice": false, "zero": false}, "axis": {"values": [2005, 2007.4, 2009.8, 2012.2, 2014.6, 2017], "labelExpr": "'' + round(datum.value)"}},
                "y": {"field": "v", "type": "quantitative", "scale": {"domain": [-0.1, 0.3], "nice": false, "zero": false}, "axis": {"values": [-0.1, 0, 0.1, 0.2, 0.3], "labelExpr": "'' + datum.value"}},
                "color": {"field": "s", "type": "nominal", "scale": {"domain": ["Total Variance", "Long-Run Component", "Short-Run Component"], "range": ["#0000ff", "#ff0000", "#00ff00"]}, "legend": {"title": null, "orient": "none", "direction": "horizontal", "legendX": 48, "legendY": 677}},
                "strokeDash": {"field": "s", "type": "nominal", "scale": {"domain": ["Total Variance", "Long-Run Component", "Short-Run Component"], "range": [[1, 0], [3.5, 3.5], [10, 8]]}, "legend": {"title": null, "orient": "none", "direction": "horizontal", "legendX": 48, "legendY": 677}}
              }
            },
            {
              "mark": {"type": "line", "opacity": 0},
              "encoding": {
                "x": {"field": "t", "type": "quantitative", "axis": {"orient": "top", "labels": false, "values": [2005, 2007.4, 2009.8, 2012.2, 2014.6, 2017]}},
                "y": {"field": "v", "type": "quantitative", "axis": {"orient": "right", "labels": false, "values": [-0.1, 0, 0.1, 0.2, 0.3]}}
              }
            }
          ],
          "resolve": {"axis": {"x": "independent", "y": "independent"}}
        }
      ],
      "spacing": 55
    }
  ],
  "spacing": 4,
  "center": false
}
